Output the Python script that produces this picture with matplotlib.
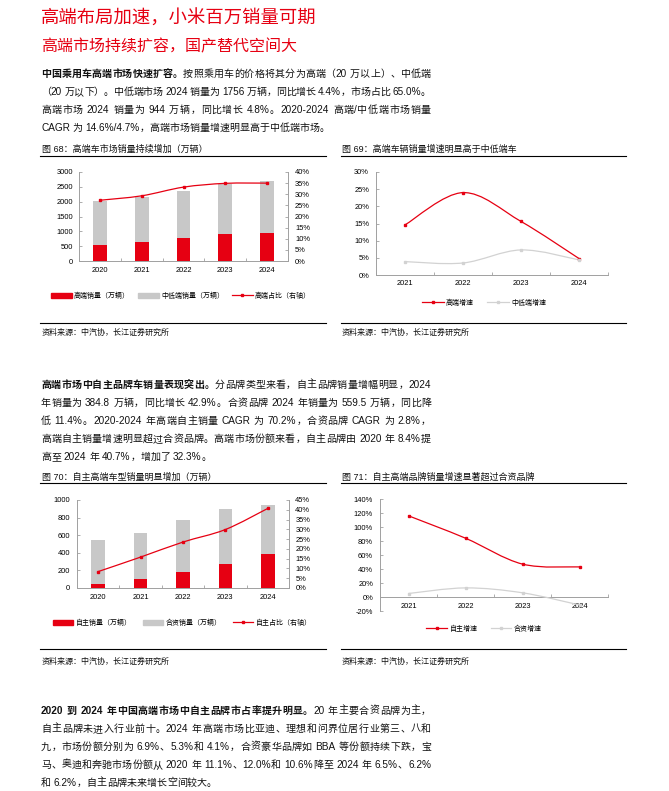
import re
import numpy as np
import matplotlib
matplotlib.use('Agg')
import matplotlib.pyplot as plt
from matplotlib.path import Path
from matplotlib.patches import PathPatch, Patch
from matplotlib.lines import Line2D

# ---------------- data ----------------
years_a = ['2020', '2021', '2022', '2023', '2024']
high_sales = [548, 628, 779, 901, 944]          # 高端销量（万辆）
midlow_sales = [1458, 1515, 1568, 1682, 1756]   # 中低端销量（万辆）
high_share = [27.3, 29.3, 33.2, 34.9, 35.0]     # 高端占比（%）

years_b = ['2021', '2022', '2023', '2024']
high_growth = [14.6, 24.0, 15.6, 4.8]           # 高端增速（%）
midlow_growth = [3.9, 3.5, 7.3, 4.4]            # 中低端增速（%）

own_sales = [46, 99, 182, 269, 385]             # 自主销量（万辆）
jv_sales = [501, 526, 594, 632, 560]            # 合资销量（万辆）
own_share = [8.4, 15.8, 23.5, 29.9, 40.7]       # 自主占比（%）

own_growth = [116, 84, 47, 43]                  # 自主增速（%）
jv_growth = [5, 13, 6, -11.4]                   # 合资增速（%）

ticks_68_left = [0, 500, 1000, 1500, 2000, 2500, 3000]
ticks_68_right = [0, 5, 10, 15, 20, 25, 30, 35, 40]
ticks_69 = [0, 5, 10, 15, 20, 25, 30]
ticks_70_left = [0, 200, 400, 600, 800, 1000]
ticks_70_right = [0, 5, 10, 15, 20, 25, 30, 35, 40, 45]
ticks_71 = [-20, 0, 20, 40, 60, 80, 100, 120, 140]

# ---------------- style ----------------
W, H = 669, 791
RED = '#E60012'
GRAY_BAR = '#C8C8C8'
GRAY_LINE = '#D2D2D2'
SPINE = '#A0A0A0'
FAM = ['Liberation Sans', 'Noto Sans CJK SC', 'DejaVu Sans']
CJK = ['Noto Sans CJK SC', 'DejaVu Sans']
plt.rcParams['font.family'] = FAM
TICK_FS = 5.4
LEG_FS = 5.0
MS = 1.6

fig = plt.figure(figsize=(W / 100, H / 100), dpi=100)
renderer = fig.canvas.get_renderer()


def fx(x):
    return x / W


def fy(y):
    return 1 - y / H


def add_ax(l, r, t, b):
    return fig.add_axes([fx(l), fy(b), (r - l) / W, (b - t) / H])


def smooth_path(xs, ys):
    pts = np.column_stack([xs, ys]).astype(float)
    n = len(pts)
    verts = [pts[0]]
    codes = [Path.MOVETO]
    for i in range(n - 1):
        p0 = pts[i - 1] if i > 0 else pts[i]
        p1 = pts[i]
        p2 = pts[i + 1]
        p3 = pts[i + 2] if i + 2 < n else pts[i + 1]
        verts += [p1 + (p2 - p0) / 6, p2 - (p3 - p1) / 6, p2]
        codes += [Path.CURVE4] * 3
    return Path(verts, codes)


def smooth_line(ax, ys, color, lw=0.9, ms=MS, z=3):
    xs = np.arange(len(ys))
    ax.add_patch(PathPatch(smooth_path(xs, ys), fill=False, edgecolor=color, lw=lw, zorder=z))
    ax.plot(xs, ys, ls='none', marker='s', ms=ms, color=color, zorder=z + 1)


def style_x(ax, cats, pad=4.0):
    n = len(cats)
    ax.set_xlim(-0.5, n - 0.5)
    ax.set_xticks(range(n))
    ax.set_xticklabels(cats)
    ax.set_xticks(np.arange(-0.5, n, 1.0), minor=True)
    ax.tick_params(axis='x', which='major', length=0, pad=pad, labelsize=TICK_FS)
    ax.tick_params(axis='x', which='minor', length=2.5, direction='in', color=SPINE, width=0.6)
    for s in ['top', 'right']:
        ax.spines[s].set_visible(False)
    for s in ['left', 'bottom']:
        ax.spines[s].set_color(SPINE)
        ax.spines[s].set_linewidth(0.7)


def style_y(ax, ticks, labels, pad=4.5):
    ax.set_yticks(ticks)
    ax.set_yticklabels(labels)
    ax.tick_params(axis='y', length=2.5, direction='in', color=SPINE, width=0.6,
                   pad=pad, labelsize=TICK_FS)


def pct(v):
    return ['%d%%' % t for t in v]


# ---------------- text helpers ----------------
TOKEN_RE = re.compile(r'[\x21-\x7e]+| +|[^\x00-\x7f]')
BODY_FS = 7.2


def para_line(x0, yc, segments, justify_to=None, size=BODY_FS):
    spx = size * 100 / 72
    base = yc + 0.36 * spx
    items = []
    for txt, bold in segments:
        for m in TOKEN_RE.finditer(txt):
            items.append((m.group(), bold))
    arts = []
    widths = []
    for tok, bold in items:
        if tok.strip() == '':
            arts.append(None)
            widths.append(len(tok) * 0.278 * spx)
        else:
            t = fig.text(fx(x0), fy(base), tok, fontsize=size, family=FAM,
                         fontweight='bold' if bold else 'normal', color='#111111',
                         ha='left', va='baseline')
            arts.append(t)
            widths.append(t.get_window_extent(renderer).width)
    extra = 0.0
    if justify_to is not None and len(items) > 1:
        extra = (justify_to - x0 - sum(widths)) / (len(items) - 1)
    cur = x0
    for a, w in zip(arts, widths):
        if a is not None:
            a.set_position((fx(cur), fy(base)))
        cur += w + extra


def paragraph(x0, y0, dy, lines, right=431):
    for i, segs in enumerate(lines):
        para_line(x0, y0 + i * dy, segs, justify_to=right if i < len(lines) - 1 else None)


def hline(x1, x2, y, lw=0.8):
    fig.add_artist(Line2D([fx(x1), fx(x2)], [fy(y), fy(y)], color='black', lw=lw))


def fig_header(x, y, text, x1, x2, yl):
    fig.text(fx(x), fy(y), text, fontsize=6.5, family=FAM, ha='left', va='center', color='#111111')
    hline(x1, x2, yl)


def fig_source(x, y, x1, x2, yl):
    hline(x1, x2, yl)
    fig.text(fx(x), fy(y), '资料来源：中汽协，长江证券研究所', fontsize=5.8, family=FAM,
             ha='left', va='center', color='#111111')


# ---------------- page titles & paragraphs ----------------
fig.text(fx(41), fy(19), '高端布局加速，小米百万销量可期', fontsize=13.2, family=CJK,
         color=RED, ha='left', va='center')
fig.text(fx(41), fy(47), '高端市场持续扩容，国产替代空间大', fontsize=11.5, family=CJK,
         color=RED, ha='left', va='center')

paragraph(41, 73, 18.1, [
    [('中国乘用车高端市场快速扩容。', True), ('按照乘用车的价格将其分为高端（20 万以上）、中低端', False)],
    [('（20 万以下）。中低端市场 2024 销量为 1756 万辆，同比增长 4.4%，市场占比 65.0%。', False)],
    [('高端市场 2024 销量为 944 万辆，同比增长 4.8%。2020-2024 高端/中低端市场销量', False)],
    [('CAGR 为 14.6%/4.7%，高端市场销量增速明显高于中低端市场。', False)],
])

paragraph(41, 384, 18.1, [
    [('高端市场中自主品牌车销量表现突出。', True), ('分品牌类型来看，自主品牌销量增幅明显，2024', False)],
    [('年销量为 384.8 万辆，同比增长 42.9%。合资品牌 2024 年销量为 559.5 万辆，同比降', False)],
    [('低 11.4%。2020-2024 年高端自主销量 CAGR 为 70.2%，合资品牌 CAGR 为 2.8%，', False)],
    [('高端自主销量增速明显超过合资品牌。高端市场份额来看，自主品牌由 2020 年 8.4%提', False)],
    [('高至 2024 年 40.7%，增加了 32.3%。', False)],
])

paragraph(41, 710, 18.0, [
    [('2020 到 2024 年中国高端市场中自主品牌市占率提升明显。', True), ('20 年主要合资品牌为主，', False)],
    [('自主品牌未进入行业前十。2024 年高端市场比亚迪、理想和问界位居行业第三、八和', False)],
    [('九，市场份额分别为 6.9%、5.3%和 4.1%，合资豪华品牌如 BBA 等份额持续下跌，宝', False)],
    [('马、奥迪和奔驰市场份额从 2020 年 11.1%、12.0%和 10.6%降至 2024 年 6.5%、6.2%', False)],
    [('和 6.2%，自主品牌未来增长空间较大。', False)],
])

# ---------------- figure headers / sources ----------------
fig_header(42, 149, '图 68：高端车市场销量持续增加（万辆）', 40, 326, 156)
fig_header(342, 149, '图 69：高端车辆销量增速明显高于中低端车', 341, 626, 156)
fig_header(42, 477, '图 70：自主高端车型销量明显增加（万辆）', 40, 326, 483)
fig_header(342, 477, '图 71：自主高端品牌销量增速显著超过合资品牌', 341, 626, 483)

fig_source(42, 333, 40, 326, 323)
fig_source(342, 333, 341, 626, 323)
fig_source(42, 662, 40, 326, 649)
fig_source(342, 662, 341, 626, 649)

# ---------------- chart 68 ----------------
ax = add_ax(79, 288, 172, 261)
x = np.arange(len(years_a))
ax.bar(x, high_sales, width=0.33, color=RED, zorder=2)
ax.bar(x, midlow_sales, width=0.33, bottom=high_sales, color=GRAY_BAR, zorder=2)
ax.set_ylim(0, 3000)
style_x(ax, years_a)
style_y(ax, ticks_68_left, [str(t) for t in ticks_68_left])
ax2 = ax.twinx()
ax2.set_ylim(0, 40)
smooth_line(ax2, high_share, RED)
for s in ['top', 'left', 'bottom']:
    ax2.spines[s].set_visible(False)
ax2.spines['right'].set_color(SPINE)
ax2.spines['right'].set_linewidth(0.7)
style_y(ax2, ticks_68_right, pct(ticks_68_right), pad=5)
ax2.set_xlim(-0.5, len(years_a) - 0.5)

h = [Patch(color=RED), Patch(color=GRAY_BAR),
     Line2D([], [], color=RED, lw=0.9, marker='s', ms=MS)]
fig.legend(h, ['高端销量（万辆）', '中低端销量（万辆）', '高端占比（右轴）'],
           loc='center', bbox_to_anchor=(fx(181), fy(296)), ncol=3, frameon=False,
           fontsize=LEG_FS, handlelength=3.0, handleheight=0.8, handletextpad=0.3,
           columnspacing=1.15, borderpad=0, borderaxespad=0)

# ---------------- chart 69 ----------------
ax = add_ax(376, 608, 172, 275)
ax.set_ylim(0, 30)
smooth_line(ax, high_growth, RED)
smooth_line(ax, midlow_growth, GRAY_LINE)
style_x(ax, years_b, pad=3.5)
style_y(ax, ticks_69, pct(ticks_69), pad=5)
h = [Line2D([], [], color=RED, lw=0.9, marker='s', ms=MS),
     Line2D([], [], color=GRAY_LINE, lw=0.9, marker='s', ms=MS)]
fig.legend(h, ['高端增速', '中低端增速'], loc='center', bbox_to_anchor=(fx(484), fy(303)),
           ncol=2, frameon=False, fontsize=LEG_FS, handlelength=3.2, handletextpad=0.3,
           columnspacing=1.9, borderpad=0, borderaxespad=0)

# ---------------- chart 70 ----------------
ax = add_ax(77, 289, 500, 588)
x = np.arange(len(years_a))
ax.bar(x, own_sales, width=0.32, color=RED, zorder=2)
ax.bar(x, jv_sales, width=0.32, bottom=own_sales, color=GRAY_BAR, zorder=2)
ax.set_ylim(0, 1000)
style_x(ax, years_a)
style_y(ax, ticks_70_left, [str(t) for t in ticks_70_left], pad=5)
ax2 = ax.twinx()
ax2.set_ylim(0, 45)
smooth_line(ax2, own_share, RED)
for s in ['top', 'left', 'bottom']:
    ax2.spines[s].set_visible(False)
ax2.spines['right'].set_color(SPINE)
ax2.spines['right'].set_linewidth(0.7)
style_y(ax2, ticks_70_right, pct(ticks_70_right), pad=4.5)
ax2.set_xlim(-0.5, len(years_a) - 0.5)

h = [Patch(color=RED), Patch(color=GRAY_BAR),
     Line2D([], [], color=RED, lw=0.9, marker='s', ms=MS)]
fig.legend(h, ['自主销量（万辆）', '合资销量（万辆）', '自主占比（右轴）'],
           loc='center', bbox_to_anchor=(fx(182), fy(623)), ncol=3, frameon=False,
           fontsize=LEG_FS, handlelength=3.0, handleheight=0.8, handletextpad=0.3,
           columnspacing=1.6, borderpad=0, borderaxespad=0)

# ---------------- chart 71 ----------------
ax = add_ax(380, 608, 499, 611)
ax.set_ylim(-20, 140)
smooth_line(ax, own_growth, RED)
smooth_line(ax, jv_growth, GRAY_LINE)
style_x(ax, years_b, pad=4.0)
ax.spines['bottom'].set_position(('data', 0))
ax.tick_params(axis='x', which='minor', direction='in')
style_y(ax, ticks_71, pct(ticks_71), pad=5)
h = [Line2D([], [], color=RED, lw=0.9, marker='s', ms=MS),
     Line2D([], [], color=GRAY_LINE, lw=0.9, marker='s', ms=MS)]
fig.legend(h, ['自主增速', '合资增速'], loc='center', bbox_to_anchor=(fx(484), fy(629)),
           ncol=2, frameon=False, fontsize=LEG_FS, handlelength=3.0, handletextpad=0.3,
           columnspacing=1.9, borderpad=0, borderaxespad=0)

fig.savefig('out.png', dpi=100, facecolor='white')
